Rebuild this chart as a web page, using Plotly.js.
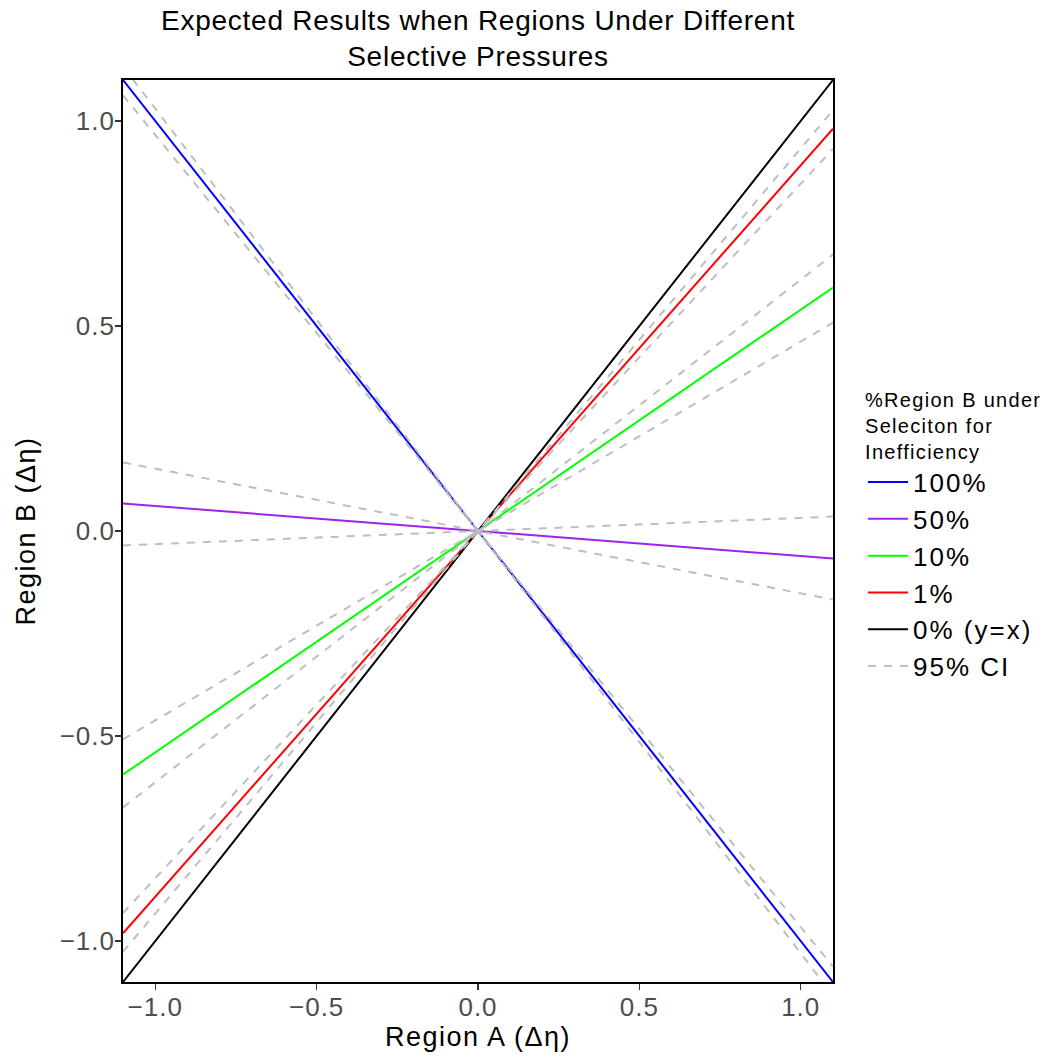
<!DOCTYPE html>
<html><head><meta charset="utf-8">
<script src="https://cdn.plot.ly/plotly-3.0.1.min.js"></script>
<style>
html,body{margin:0;padding:0;background:#fff}
.gtitle{letter-spacing:0.75px}
.xtick text,.ytick text{letter-spacing:1px}
.xtitle,.ytitle{letter-spacing:1.5px}
.legendtext{letter-spacing:2px}
.legendtitletext{letter-spacing:1.3px}
</style>
</head><body><div id="chart" style="width:1058px;height:1059px"></div>
<script>
// Data (lines through the origin, given by slope)
const xLimits = [-1.1, 1.1];
const seriesNames = ['100%', '50%', '10%', '1%', '0% (y=x)'];
const seriesSlopes = [-1.0, -0.061, 0.540, 0.892, 1.0];
const seriesColors = ['#0000FF', '#A020F0', '#00FF00', '#FF0000', '#000000'];
const ciLowerSlopes = [-1.030, -0.152, 0.462, 0.847];
const ciUpperSlopes = [-0.966, 0.032, 0.613, 0.933];
const ciName = '95% CI';
const tickValues = [-1.0, -0.5, 0.0, 0.5, 1.0];
const tickLabels = ['\u22121.0', '\u22120.5', '0.0', '0.5', '1.0'];

const traces = [];
seriesNames.forEach((name, i) => {
  traces.push({
    type: 'scatter', mode: 'lines', name: name,
    x: xLimits.slice(),
    y: xLimits.map(v => v * seriesSlopes[i]),
    line: {color: seriesColors[i], width: 2},
    hoverinfo: 'skip'
  });
});
const ciX = [], ciY = [];
ciLowerSlopes.concat(ciUpperSlopes).forEach(s => {
  ciX.push(xLimits[0], xLimits[1], null);
  ciY.push(xLimits[0] * s, xLimits[1] * s, null);
});
traces.push({
  type: 'scatter', mode: 'lines', name: ciName,
  x: ciX, y: ciY, connectgaps: false,
  line: {color: '#BEBEBE', width: 2, dash: '8px,8px'},
  hoverinfo: 'skip'
});

const axisCommon = {
  range: xLimits, tickmode: 'array', tickvals: tickValues, ticktext: tickLabels,
  showgrid: false, zeroline: false,
  showline: true, linecolor: '#000000', linewidth: 1.8, mirror: true,
  ticks: 'outside', ticklen: 6, tickwidth: 1.5, tickcolor: '#333333',
  ticklabelstandoff: -5,
  tickfont: {family: 'Liberation Sans, Arial, sans-serif', size: 26, color: '#4D4D4D'}
};

const layout = {
  width: 1058, height: 1059,
  margin: {l: 123, r: 225, t: 80, b: 77},
  paper_bgcolor: '#ffffff', plot_bgcolor: '#ffffff',
  font: {family: 'Liberation Sans, Arial, sans-serif', color: '#000000'},
  title: {
    text: 'Expected Results when Regions Under Different<br>Selective Pressures',
    font: {size: 28, color: '#000000'},
    x: 0.5, xref: 'paper', xanchor: 'center',
    y: 1 - 30 / 1059, yref: 'container', yanchor: 'middle'
  },
  xaxis: Object.assign({}, axisCommon, {
    title: {text: 'Region A (\u0394\u03b7)', font: {size: 27, color: '#000000'}, standoff: 4}
  }),
  yaxis: Object.assign({}, axisCommon, {
    title: {text: 'Region B (\u0394\u03b7)', font: {size: 27, color: '#000000'}, standoff: 16}
  }),
  showlegend: true,
  legend: {
    x: 1.0423, xanchor: 'left', y: 0.6667, yanchor: 'top',
    title: {text: '%Region B under<br>Seleciton for<br>Inefficiency', font: {size: 20, color: '#000000'}},
    font: {size: 26, color: '#000000'},
    bgcolor: 'rgba(0,0,0,0)', borderwidth: 0,
    itemwidth: 40
  }
};

Plotly.newPlot('chart', traces, layout, {displayModeBar: false, staticPlot: true});
</script>
</body></html>
